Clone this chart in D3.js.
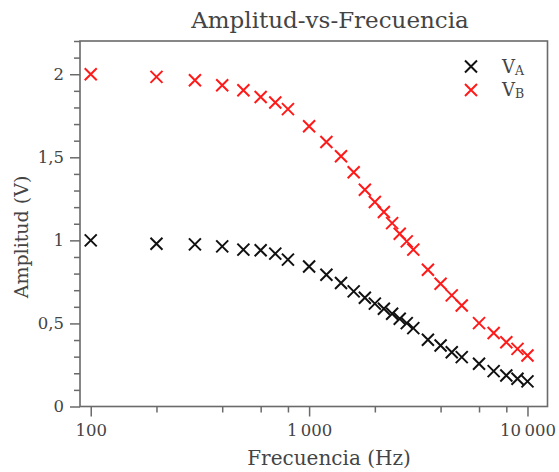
<!DOCTYPE html>
<html>
<head>
<meta charset="utf-8">
<script src="https://cdn.jsdelivr.net/npm/d3@7"></script>
<style>
  html, body { margin: 0; padding: 0; background: #fff; }
  svg { display: block; }
  text { font-family: "DejaVu Serif", serif; fill: #444; }
</style>
</head>
<body>
<svg id="chart" width="559" height="472"></svg>
<script>
// Frequency sweep (Hz) and measured amplitudes (V)
const frequencies = [100, 200, 300, 400, 500, 600, 700, 800, 1000, 1200, 1400, 1600, 1800,
  2000, 2200, 2400, 2600, 2800, 3000, 3500, 4000, 4500, 5000, 6000, 7000, 8000, 9000, 10000];
const ampA = [1.0, 0.98, 0.976, 0.964, 0.944, 0.94, 0.92, 0.884, 0.843, 0.793, 0.743, 0.693, 0.655,
  0.619, 0.588, 0.558, 0.528, 0.502, 0.472, 0.402, 0.367, 0.327, 0.297, 0.257, 0.213, 0.187, 0.167, 0.151];
const ampB = [2.0, 1.984, 1.964, 1.934, 1.904, 1.863, 1.83, 1.79, 1.687, 1.592, 1.506, 1.41, 1.305,
  1.231, 1.171, 1.104, 1.04, 0.994, 0.944, 0.823, 0.739, 0.669, 0.608, 0.502, 0.442, 0.387, 0.347, 0.307];

const xMajorTicks = [100, 1000, 10000];
const xMinorTicks = [200, 400, 600, 800, 2000, 4000, 6000, 8000];
const yMajorTicks = [0, 0.5, 1, 1.5, 2];
const yMinorTicks = d3.range(0, 23).map(i => i / 10);

const series = [
  { name: "V", sub: "A", values: ampA, color: "#111111" },
  { name: "V", sub: "B", values: ampB, color: "#ff1a1a" }
];

const xDomain = [89.3, 12350];
const yDomain = [0, 2.2];

const locale = d3.formatLocale({ decimal: ",", thousands: "\u2009", grouping: [3], currency: ["", ""] });
const fmtX = locale.format(",d");
const fmtY = locale.format("~g");

const svg = d3.select("#chart");
const plotLeft = 80, plotRight = 547.5, plotTop = 41, plotBottom = 406.5;

const x = d3.scaleLog().domain(xDomain).range([plotLeft, plotRight]);
const y = d3.scaleLinear().domain(yDomain).range([plotBottom, plotTop]);

const axisColor = "#6a6a6a";

// frame
svg.append("rect")
  .attr("x", plotLeft).attr("y", plotTop)
  .attr("width", plotRight - plotLeft).attr("height", plotBottom - plotTop)
  .attr("fill", "none").attr("stroke", axisColor).attr("stroke-width", 1.6);

// x axis (major ticks with labels, then minor ticks)
svg.append("g").attr("transform", `translate(0,${plotBottom})`)
  .call(d3.axisBottom(x).tickValues(xMajorTicks).tickFormat(fmtX).tickSize(10).tickPadding(8));
svg.append("g").attr("transform", `translate(0,${plotBottom})`)
  .call(d3.axisBottom(x).tickValues(xMinorTicks).tickFormat("").tickSize(6));

// y axis
svg.append("g").attr("transform", `translate(${plotLeft},0)`)
  .call(d3.axisLeft(y).tickValues(yMajorTicks).tickFormat(fmtY).tickSize(10).tickPadding(6));
svg.append("g").attr("transform", `translate(${plotLeft},0)`)
  .call(d3.axisLeft(y).tickValues(yMinorTicks.filter(v => !yMajorTicks.includes(v))).tickFormat("").tickSize(6));

svg.selectAll(".domain").remove();
svg.selectAll(".tick line").attr("stroke", axisColor).attr("stroke-width", 1.5);
svg.selectAll(".tick text")
  .attr("font-family", "DejaVu Serif").attr("font-size", 16.5).attr("fill", "#555");

// markers
const cross = s => `M${-s},${-s}L${s},${s}M${-s},${s}L${s},${-s}`;
series.forEach(sr => {
  svg.append("g").selectAll("path")
    .data(frequencies.map((f, i) => [f, sr.values[i]]))
    .join("path")
    .attr("transform", d => `translate(${x(d[0])},${y(d[1])})`)
    .attr("d", cross(6))
    .attr("fill", "none")
    .attr("stroke", sr.color)
    .attr("stroke-width", 2);
});

// title and axis labels
svg.append("text")
  .attr("x", 330).attr("y", 28)
  .attr("text-anchor", "middle").attr("font-size", 23).attr("fill", "#2a2a2a")
  .text("Amplitud-vs-Frecuencia");

svg.append("text")
  .attr("x", 329).attr("y", 465)
  .attr("text-anchor", "middle").attr("font-size", 20).attr("fill", "#333")
  .text("Frecuencia (Hz)");

svg.append("text")
  .attr("transform", "translate(28,237) rotate(-90)")
  .attr("text-anchor", "middle").attr("font-size", 19).attr("fill", "#333")
  .text("Amplitud (V)");

// legend
const legend = svg.append("g");
series.forEach((sr, i) => {
  const ly = 66.5 + i * 23.5;
  legend.append("path")
    .attr("transform", `translate(471,${ly})`)
    .attr("d", cross(6))
    .attr("fill", "none").attr("stroke", sr.color).attr("stroke-width", 2);
  const t = legend.append("text")
    .attr("x", 502).attr("y", ly + 6)
    .attr("font-size", 18).attr("fill", "#333");
  t.append("tspan").text(sr.name);
  t.append("tspan").attr("font-size", 12.5).attr("dy", 2).text(sr.sub);
});
</script>
</body>
</html>
